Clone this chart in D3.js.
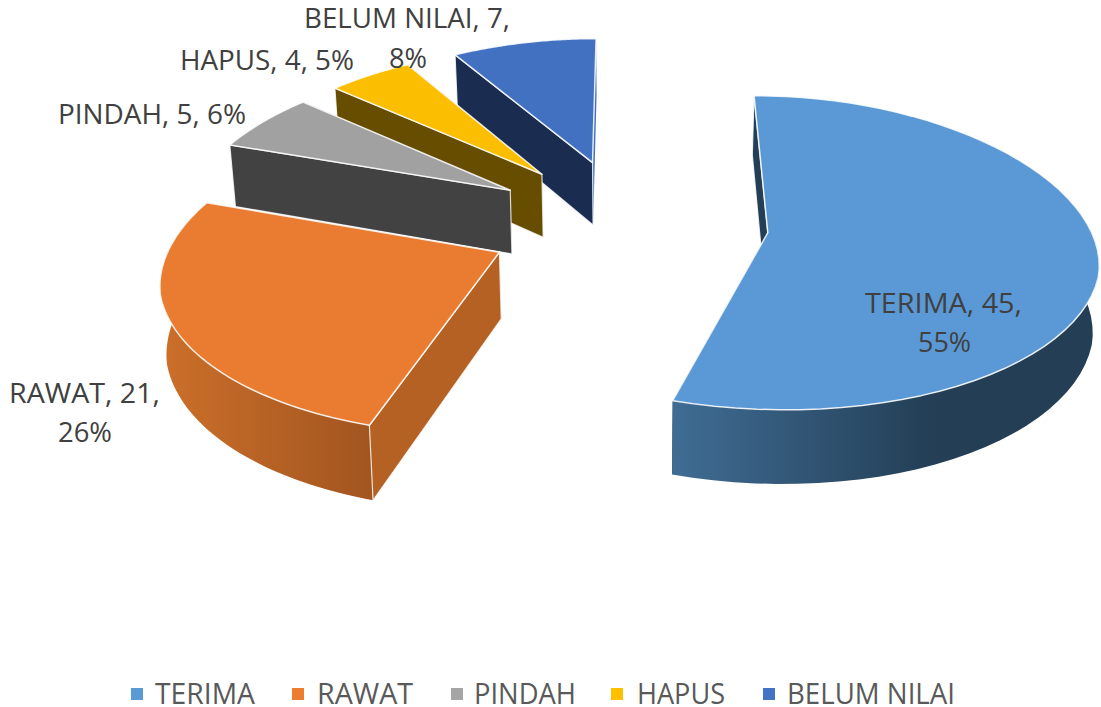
<!DOCTYPE html>
<html><head><meta charset="utf-8">
<script src="https://cdn.jsdelivr.net/npm/d3@7/dist/d3.min.js"></script>
<style>html,body{margin:0;background:#fff}svg{display:block}text{font-family:"Open Sans",sans-serif}</style>
</head><body><svg id="c" width="1101" height="707"></svg>
<script>
const categories=["TERIMA","RAWAT","PINDAH","HAPUS","BELUM NILAI"];
const values=[45,21,5,4,7];
const percents=[55,26,6,5,8];
const topColors=["#5a99d5","#ea7c31","#a1a1a1","#fcbe00","#4371c2"];
const legendColors=["#5b9bd5","#ed7d31","#a5a5a5","#ffc000","#4472c4"];
const wallColors=["#233e55","#b56124","#424242","#664d00","#1a2c50"];
const wallGradients=[["#3f6c93","#233e55"],["#cb6f2a","#a2551f"],null,null,null];

const cam={vx:630,hy:-1140,y0:238,D:2938,Rad:332,taper:0.04,rightScale:0.99,apexLift:5,h:66,conv:0.986,ex:142,cx:-2,cy:28};
const svg=d3.select("#c");
const defs=svg.append("defs");
const pie=d3.pie().sort(null).startAngle(0).endAngle(2*Math.PI);
const arcs=pie(values);
const f=Y=>cam.D/(cam.D+Y);
const pTop=([X,Y])=>{const s=f(Y);return [cam.vx+X*s,cam.hy+(cam.y0-cam.hy)*s];};
const pBot=([X,Y])=>{const s=f(Y);return [cam.vx+X*s*cam.conv,cam.hy+(cam.y0-cam.hy)*s+cam.h*s];};
const dir=a=>[Math.sin(a),Math.cos(a)];
const line=d3.line();
const gSl=svg.append("g");

arcs.map((d,i)=>({d,i})).reverse().forEach(({d,i})=>{
  const mid=(d.startAngle+d.endAngle)/2;
  const m=dir(mid);
  const base=[cam.cx+cam.ex*m[0],cam.cy+cam.ex*m[1]];
  const ap=[base[0],base[1]+cam.apexLift];
  const at=a=>{
    const u=dir(a);
    const t=Math.max(0,u[1]+0.25);
    const sx=(1-cam.taper*t)*(u[0]>0?cam.rightScale:1);
    return [base[0]+cam.Rad*u[0]*sx,base[1]+cam.Rad*u[1]];
  };
  const steps=d3.range(0,61).map(k=>d.startAngle+(d.endAngle-d.startAngle)*k/60);
  const rim=steps.map(at);
  const g=gSl.append("g").attr("class","slice");
  g.append("path").attr("d",line([pTop(ap),pTop(at(d.endAngle)),pBot(at(d.endAngle)),pBot(ap)])+"Z")
    .attr("fill",i===4?topColors[i]:wallColors[i]);
  const front=steps.filter(a=>Math.cos(a)<0.09);
  if(front.length>1&&wallGradients[i]){
    const id="wall"+i;
    const lg=defs.append("linearGradient").attr("id",id).attr("gradientUnits","userSpaceOnUse")
      .attr("x1",i===0?675:165).attr("x2",i===0?935:371).attr("y1",0).attr("y2",0);
    lg.append("stop").attr("offset",0).attr("stop-color",wallGradients[i][0]);
    lg.append("stop").attr("offset",1).attr("stop-color",wallGradients[i][1]);
    const t=front.map(a=>pTop(at(a))), b=front.map(a=>pBot(at(a))).reverse();
    g.append("path").attr("d",line(t.concat(b))+"Z").attr("fill",`url(#${id})`);
  }
  g.append("path").attr("d",line([pTop(ap),pTop(at(d.startAngle)),pBot(at(d.startAngle)),pBot(ap)])+"Z")
    .attr("fill",wallColors[i]).attr("stroke","#fff").attr("stroke-width",1.2).attr("stroke-opacity",.8);
  g.append("path").attr("d",line([pTop(ap)].concat(rim.map(pTop)))+"Z")
    .attr("fill",topColors[i]).attr("stroke","#fff").attr("stroke-width",1.5).attr("stroke-opacity",.85).attr("stroke-linejoin","round");
});

// data labels: one row per text line [left, width, baseline]
const labelLayout=[
 [[865,157,313],[918,53,352]],
 [[9,151,403],[58,54,442]],
 [[58,188,124]],
 [[180,174,70]],
 [[304,206,28],[389,38,68]]];
const gL=svg.append("g");
categories.forEach((c,i)=>{
  const rows=labelLayout[i];
  const lines=rows.length===1?[`${c}, ${values[i]}, ${percents[i]}%`]:[`${c}, ${values[i]},`,`${percents[i]}%`];
  lines.forEach((t,k)=>gL.append("text").attr("x",rows[k][0]).attr("y",rows[k][2])
    .attr("textLength",rows[k][1]).attr("lengthAdjust","spacingAndGlyphs")
    .attr("font-size",27.5).attr("fill","#404040").text(t));
});

// legend: marker left, text left, text width
const legendLayout=[[131,155,100],[292,317,96],[451,474,102],[611,637,88],[763,787,168]];
const gLeg=svg.append("g");
categories.forEach((c,i)=>{
  const [mx,tx,tw]=legendLayout[i];
  gLeg.append("rect").attr("x",mx).attr("y",688).attr("width",12).attr("height",12).attr("fill",legendColors[i]);
  gLeg.append("text").attr("x",tx).attr("y",704).attr("textLength",tw).attr("lengthAdjust","spacingAndGlyphs")
    .attr("font-size",28.5).attr("fill","#595959").text(c);
});
</script></body></html>
